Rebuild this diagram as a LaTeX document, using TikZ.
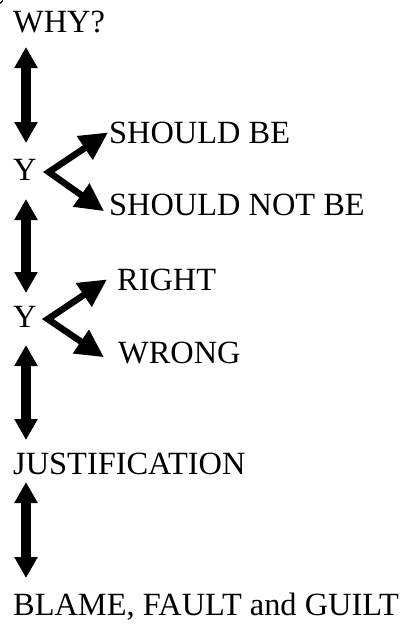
\documentclass[tikz,border=0pt]{standalone}
\usepackage{fontspec}
\setmainfont{Liberation Serif}
\usetikzlibrary{arrows.meta}
\begin{document}
\begin{tikzpicture}[x=1pt,y=-1pt,
  lbl/.style={anchor=base west,inner sep=0pt,font=\fontsize{32.4}{39}\selectfont},
  vdbl/.style={line width=9.5pt,{Triangle[length=21pt,width=22pt]}-{Triangle[length=21pt,width=22pt]}},
  diag/.style={line width=6.5pt,line join=miter,{Triangle[length=28pt,width=27pt]}-{Triangle[length=28pt,width=27pt]}}]
\useasboundingbox (0,0) rectangle (400,625);
\fill (0,2.5) -- (2.5,0) -- (3.2,1) -- (0.6,4) -- cycle;
\node[lbl] (why) at (13,32) {WHY?};
\node[lbl] (y1) at (13,180) {Y};
\node[lbl] (sb) at (109,143) {SHOULD BE};
\node[lbl] (snb) at (109,215) {SHOULD NOT BE};
\node[lbl] (y2) at (13,327) {Y};
\node[lbl] (right) at (117,290) {RIGHT};
\node[lbl] (wrong) at (118,363) {WRONG};
\node[lbl] (just) at (13,474) {JUSTIFICATION};
\node[lbl] (blame) at (13,615) {BLAME, FAULT and GUILT};
% vertical double arrows
\coordinate (a1t) at (26,47);  \coordinate (a1b) at (26,143);
\coordinate (a2t) at (26,199); \coordinate (a2b) at (26,293);
\coordinate (a3t) at (26,345); \coordinate (a3b) at (26,440);
\coordinate (a4t) at (26,482); \coordinate (a4b) at (26,578);
\draw[vdbl] (a1t) -- (a1b);
\draw[vdbl] (a2t) -- (a2b);
\draw[vdbl] (a3t) -- (a3b);
\draw[vdbl] (a4t) -- (a4b);
% diagonal arrows
\draw[diag] ([xshift=-1pt]sb.west) -- ([xshift=12pt,yshift=-2.7pt]y1.east) -- ([xshift=-5pt,yshift=-6.7pt]snb.west);
\draw[diag] ([xshift=-10pt]right.west) -- ([xshift=11pt,yshift=-2.7pt]y2.east) -- ([xshift=-14pt,yshift=-4.7pt]wrong.west);
\end{tikzpicture}
\end{document}
